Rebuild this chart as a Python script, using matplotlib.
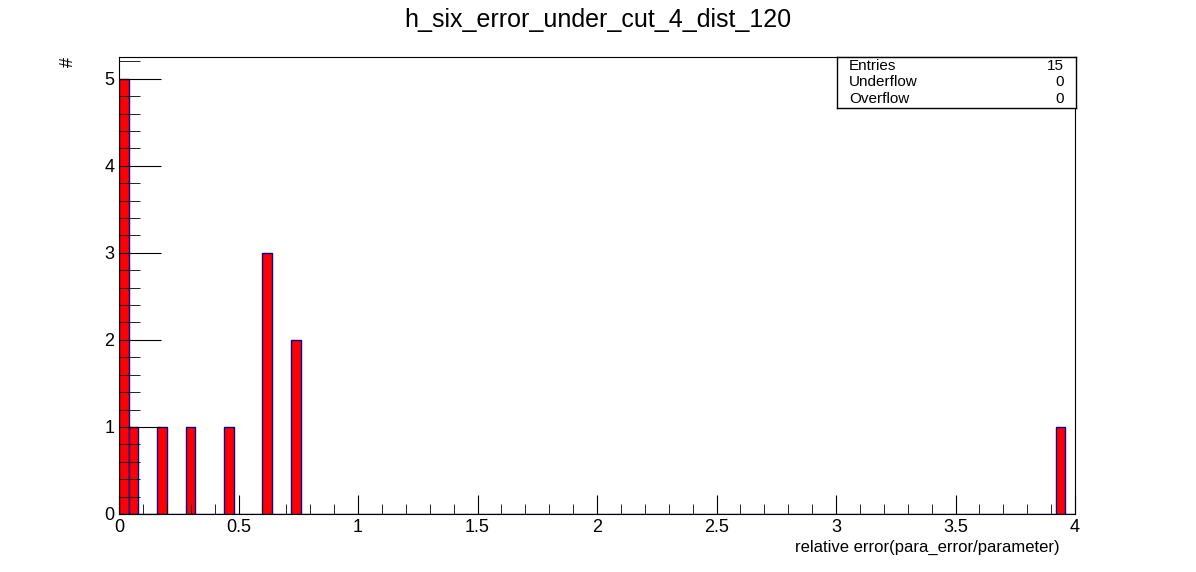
import numpy as np
import matplotlib.pyplot as plt
from matplotlib.ticker import MultipleLocator, FuncFormatter

plt.rcParams['font.family'] = ['Liberation Sans', 'DejaVu Sans']

#histogram: 100 bins from 0 to 4
bin_edges = np.linspace(0, 4, 101)
filled_bins = [0, 1, 4, 7, 11, 15, 18, 98]
filled_counts = [5, 1, 1, 1, 1, 3, 2, 1]
counts = np.zeros(100)
counts[filled_bins] = filled_counts

fig = plt.figure(figsize=(11.96, 5.72), dpi=100)
ax = fig.add_axes([119/1196, 1-514/572, (1075-119)/1196, (514-57)/572])

ax.bar(bin_edges[:-1], counts, width=0.04, align="edge",
       color="red", edgecolor="#000099", linewidth=1)

ax.set_xlim(0, 4)
ax.set_ylim(0, 5.25)
ax.xaxis.set_major_locator(MultipleLocator(0.5))
ax.xaxis.set_minor_locator(MultipleLocator(0.1))
ax.yaxis.set_major_locator(MultipleLocator(1))
ax.yaxis.set_minor_locator(MultipleLocator(0.2))
ax.xaxis.set_major_formatter(FuncFormatter(lambda v, p: f"{v:g}"))
ax.tick_params(which="both", direction="in", labelsize=13, top=False, right=False)
ax.tick_params(axis="y", which="major", length=30)
ax.tick_params(axis="y", which="minor", length=15)
ax.tick_params(axis="x", which="major", length=14)
ax.tick_params(axis="x", which="minor", length=7)

fig.text(0.5, 1-20/572, "h_six_error_under_cut_4_dist_120", ha="center", va="center", fontsize=18)
fig.text(1060/1196, 1-547/572, "relative error(para_error/parameter)", ha="right", va="center", fontsize=12)
fig.text(68/1196, 1-62/572, "#", ha="center", va="center", fontsize=13, rotation=90)

#stats box
box = fig.add_axes([837/1196, 1-108/572, (1076-837)/1196, (108-57)/572])
box.set_xticks([]); box.set_yticks([])
for spine in box.spines.values():
    spine.set_linewidth(1)
rows = [("Entries", "15"), ("Underflow", "0"), ("Overflow", "0")]
for i, (name, val) in enumerate(rows):
    y = 0.83 - i * 0.33
    box.text(0.05, y, name, ha="left", va="center", fontsize=11)
    box.text(0.95, y, val, ha="right", va="center", fontsize=11)

fig.savefig("out.png", dpi=100)
